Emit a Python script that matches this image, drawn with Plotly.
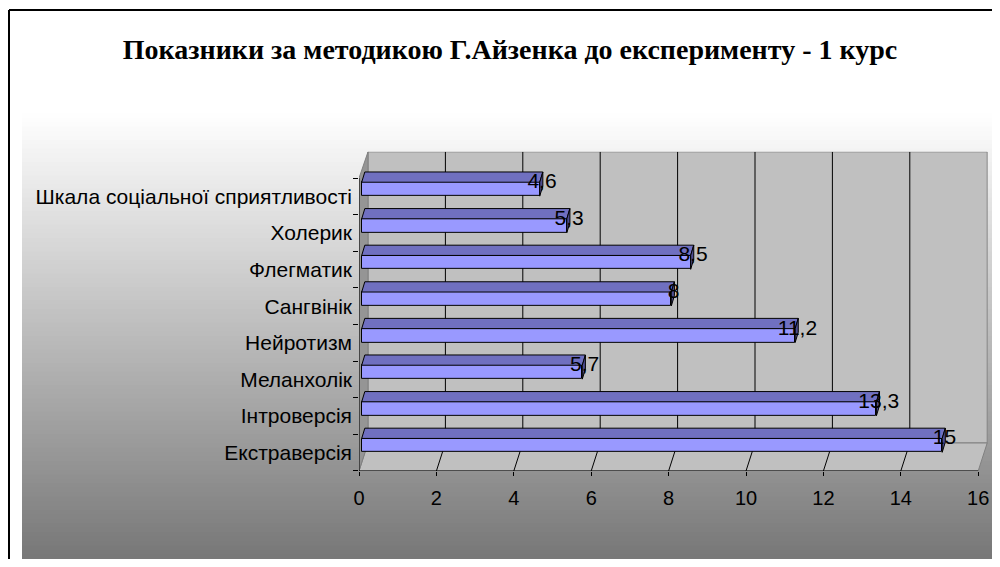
import plotly.graph_objects as go

# ---------------- data ----------------
title_text = "Показники за методикою Г.Айзенка до експерименту - 1 курс"
categories = [
    "Екстраверсія",
    "Інтроверсія",
    "Меланхолік",
    "Нейротизм",
    "Сангвінік",
    "Флегматик",
    "Холерик",
    "Шкала соціальної сприятливості",
]
values = [15, 13.3, 5.7, 11.2, 8, 8.5, 5.3, 4.6]
x_tick_values = [0, 2, 4, 6, 8, 10, 12, 14, 16]
x_max = 16

# ---------------- geometry / style ----------------
OFF = 8                 # page body margin
W, H = 1000 - 2 * OFF, 567 - 2 * OFF
X0, KX = 359 - OFF, 38.7      # px of x=0, px per unit
Y0, KY = 471 - OFF, 36.6      # px of y=-0.5, px per category
XR = [0, 16.25]
YR = [-0.5, 8.22]
DXW = 9 / KX            # wall depth offset in x units
DYW = 28 / KY           # wall depth offset in y units
BAR_BASE = 0.07
BAR_LO, BAR_HI = 0.01, 0.39
TOP_DX, TOP_DY = 0.08, 0.28
FONT = "Liberation Sans, Arial, sans-serif"

n = len(categories)
fig = go.Figure()

shapes = []
# gradient background (paper coords)
g_top, g_bot, g_left, g_right = 113 - OFF, 559 - OFF, 22 - OFF, W
N = 100
c_top, c_bot = 255, 119
for k in range(N):
    y1 = g_top + (g_bot - g_top) * k / N
    t = (k + 0.5) / N
    c = round(c_top + (c_bot - c_top) * t)
    shapes.append(dict(type="rect", xref="paper", yref="paper",
                       x0=g_left / W, x1=g_right / W,
                       y0=1 - g_bot / H, y1=1 - y1 / H,
                       fillcolor=f"rgb({c},{c},{c})", line=dict(width=0),
                       layer="below"))
# outer border (left and top)
shapes.append(dict(type="line", xref="paper", yref="paper",
                   x0=1 / W, x1=1 / W, y0=0, y1=1 - 2 / H,
                   line=dict(color="black", width=2), layer="below"))
shapes.append(dict(type="line", xref="paper", yref="paper",
                   x0=1 / W, x1=1, y0=1 - 2 / H, y1=1 - 2 / H,
                   line=dict(color="black", width=2), layer="below"))

y_bot, y_top = -0.5, n - 0.5
# back wall
shapes.append(dict(type="rect", xref="x", yref="y",
                   x0=DXW, x1=x_max + DXW, y0=y_bot + DYW, y1=YR[1],
                   fillcolor="#c0c0c0", line=dict(color="#808080", width=1),
                   layer="below"))
# floor
shapes.append(dict(type="path", xref="x", yref="y",
                   path=f"M 0 {y_bot} L {x_max} {y_bot} L {x_max + DXW} {y_bot + DYW} L {DXW} {y_bot + DYW} Z",
                   fillcolor="#c0c0c0", line=dict(color="#808080", width=1),
                   layer="below"))
# side wall
shapes.append(dict(type="path", xref="x", yref="y",
                   path=f"M 0 {y_bot} L 0 {y_top} L {DXW} {YR[1]} L {DXW} {y_bot + DYW} Z",
                   fillcolor="#959595", line=dict(color="#808080", width=1),
                   layer="below"))
# gridlines on back wall and floor
for v in x_tick_values[1:-1]:
    shapes.append(dict(type="line", xref="x", yref="y",
                       x0=v + DXW, x1=v + DXW, y0=y_bot + DYW, y1=YR[1],
                       line=dict(color="black", width=1), layer="below"))
    shapes.append(dict(type="line", xref="x", yref="y",
                       x0=v, x1=v + DXW, y0=y_bot, y1=y_bot + DYW,
                       line=dict(color="black", width=1), layer="below"))
# front axis lines
shapes.append(dict(type="line", xref="x", yref="y",
                   x0=0, x1=x_max, y0=y_bot, y1=y_bot,
                   line=dict(color="black", width=1), layer="below"))
shapes.append(dict(type="line", xref="x", yref="y",
                   x0=0, x1=0, y0=y_bot, y1=y_top,
                   line=dict(color="black", width=1), layer="below"))

# ---------------- bars ----------------
ys = list(range(n))
fig.add_trace(go.Bar(
    y=[i + (BAR_LO + BAR_HI) / 2 for i in ys], x=values, base=BAR_BASE,
    orientation="h", width=BAR_HI - BAR_LO,
    marker=dict(color="#9999ff", line=dict(color="black", width=1)),
    hoverinfo="skip", showlegend=False))

top_x, top_y, side_x, side_y = [], [], [], []
for i, v in zip(ys, values):
    xa, xb = BAR_BASE, v + BAR_BASE
    ya, yb = i + BAR_LO, i + BAR_HI
    top_x += [xa, xb, xb + TOP_DX, xa + TOP_DX, xa, None]
    top_y += [yb, yb, yb + TOP_DY, yb + TOP_DY, yb, None]
    side_x += [xb, xb + TOP_DX, xb + TOP_DX, xb, xb, None]
    side_y += [ya, ya + TOP_DY, yb + TOP_DY, yb, ya, None]
fig.add_trace(go.Scatter(x=top_x, y=top_y, mode="lines", fill="toself",
                         fillcolor="#7070c0", line=dict(color="black", width=1),
                         hoverinfo="skip", showlegend=False))
fig.add_trace(go.Scatter(x=side_x, y=side_y, mode="lines", fill="toself",
                         fillcolor="#4c4c90", line=dict(color="black", width=1),
                         hoverinfo="skip", showlegend=False))

labels = [f"{v:g}".replace(".", ",") for v in values]
fig.add_trace(go.Scatter(
    x=[v + BAR_BASE + 0.06 for v in values], y=[i + 0.37 for i in ys],
    mode="text", text=labels, textposition="middle center",
    textfont=dict(family=FONT, size=21, color="black"),
    hoverinfo="skip", showlegend=False))

# dummy trace on yaxis2 for boundary ticks
fig.add_trace(go.Scatter(x=[None], y=[None], yaxis="y2", showlegend=False, hoverinfo="skip"))

xdom = [X0 / W, min(1.0, (X0 + (XR[1] - XR[0]) * KX) / W)]
ydom = [1 - Y0 / H, 1 - (Y0 - (YR[1] - YR[0]) * KY) / H]

fig.update_layout(
    template="none",
    width=W, height=H, autosize=False,
    margin=dict(l=0, r=0, t=0, b=0, pad=0, autoexpand=False),
    paper_bgcolor="white", plot_bgcolor="rgba(0,0,0,0)",
    shapes=shapes,
    bargap=0,
    title=dict(text=f"<b>{title_text}</b>", x=(510 - OFF) / W, xanchor="center",
               y=1 - (49 - OFF) / H, yanchor="middle", automargin=False,
               font=dict(family="Liberation Serif, Times New Roman, serif", size=28, color="black")),
    xaxis=dict(domain=xdom, range=XR, tickvals=x_tick_values, automargin=False,
               ticks="outside", ticklen=4, tickcolor="black", tickwidth=1,
               showgrid=False, zeroline=False, showline=False,
               tickfont=dict(family=FONT, size=20, color="black"),
               ticklabelstandoff=5, fixedrange=True),
    yaxis=dict(domain=ydom, range=YR, tickvals=ys, ticktext=categories, automargin=False,
               ticks="", showgrid=False, zeroline=False, showline=False,
               tickfont=dict(family=FONT, size=21, color="black"),
               ticklabelstandoff=6, fixedrange=True),
    yaxis2=dict(domain=ydom, range=YR, overlaying="y", anchor="x", side="left", automargin=False,
                tickvals=[i - 0.5 for i in range(n + 1)], showticklabels=False,
                ticks="outside", ticklen=5, tickcolor="black", tickwidth=1,
                showgrid=False, zeroline=False, showline=False, fixedrange=True),
)

fig.write_html("out.html", config={"responsive": False, "displayModeBar": False})
